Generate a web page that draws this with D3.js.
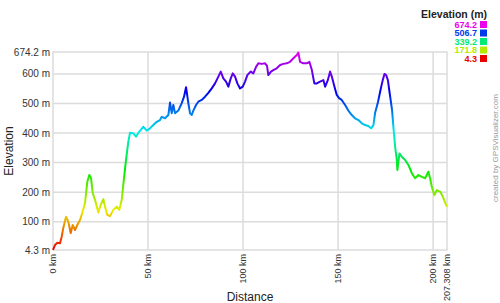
<!DOCTYPE html>
<html>
<head>
<meta charset="utf-8">
<script src="https://cdn.jsdelivr.net/npm/d3@7"></script>
<style>
  body { margin: 0; background: #fff; }
  svg text { font-family: "Liberation Sans", Arial, sans-serif; }
</style>
</head>
<body>
<svg id="chart" width="500" height="303"></svg>
<script>
// elevation profile
var distKm = [0, 1.05, 2.26, 3.68, 4.58, 5.42, 6.84, 8.05, 9.32, 10.37, 11.58, 12.79, 14.21, 15.42, 16.84,
  18.05, 19.1, 20.0, 20.9, 22.1, 23.84, 25.1, 26.47, 27.37, 28.58, 30.0, 31.74, 33.53, 34.89, 36.16,
  37.37, 38.42, 39.63, 40.53, 42.26, 43.68, 45.42, 47.53, 49.32, 51.05, 52.79, 54.58, 56.32,
  57.21, 58.95, 60.68, 61.58, 62.47, 63.32, 64.21, 65.95, 67.74, 68.95, 70.0, 71.21, 72.1, 73.0,
  73.84, 75.26, 76.47, 78.26, 80.0, 81.74, 83.53, 85.26, 87.0, 88.26, 89.63, 91.05, 92.26, 93.53,
  94.58, 95.79, 97.0, 98.42, 99.84, 101.05, 102.26, 104.05, 105.42, 106.84, 108.05, 109.84, 111.58,
  112.6, 113.3, 114.7, 115.9, 117.7, 119.5, 121.2, 123.0, 124.7, 126.5, 128.3, 129.1, 130.0, 131.7,
  133.5, 134.9, 136.2, 137.5, 138.8, 140.5, 142.3, 143.2, 144.6, 145.8, 146.7, 148.1, 149.3, 150.5,
  151.9, 153.7, 155.4, 157.2, 158.9, 160.7, 162.5, 164.2, 165.9, 167.4, 168.6, 169.5, 171.0, 172.5,
  173.5, 174.4, 175.3, 176.2, 177.4, 178.4, 179.1, 180.0, 180.9, 181.2, 182.3, 183.5, 185.3, 187.0,
  188.8, 190.5, 192.3, 194.1, 195.8, 197.5, 198.4, 199.3, 200.7, 201.9, 203.7, 205.1, 206.6, 207.308];
var elevM = [5, 21, 29, 27, 49, 79, 117, 100, 62, 89, 72, 89, 106, 130, 163,
  235, 258, 248, 197, 174, 131, 157, 176, 151, 123, 119, 140, 151, 140, 174,
  248, 309, 371, 401, 399, 388, 405, 421, 408, 416, 427, 438, 444,
  455, 450, 461, 503, 467, 495, 467, 476, 501, 523, 555, 501, 467, 461,
  476, 495, 506, 512, 523, 536, 551, 568, 591, 608, 585, 574, 557, 585,
  602, 591, 568, 551, 557, 574, 596, 608, 602, 624, 636, 634, 636,
  627, 596, 608, 613, 619, 630, 634, 636, 641, 653, 664, 672, 641, 636,
  636, 641, 613, 568, 568, 574, 579, 557, 579, 608, 591, 557, 529, 518,
  512, 495, 476, 461, 450, 444, 433, 427, 424, 416, 427, 469, 505, 551,
  579, 600, 596, 579, 523, 478, 421, 354, 309, 275, 331, 320, 309, 292,
  264, 247, 258, 252, 247, 269, 247, 218, 190, 207, 202, 185, 160, 150];

var minElev = 4.3, maxElev = 674.2, totalKm = 207.308;
var yTicks = [100, 200, 300, 400, 500, 600];
var xTicks = [0, 50, 100, 150, 200];
var legendValues = [674.2, 506.7, 339.2, 171.8, 4.3];

var svg = d3.select("#chart");
var plotLeft = 53, plotRight = 447, plotTop = 52, plotBottom = 250;

var x = d3.scaleLinear().domain([0, totalKm]).range([plotLeft, plotRight]);
var y = d3.scaleLinear().domain([minElev, maxElev]).range([plotBottom, plotTop]);

// hue goes red -> magenta with elevation
var colorOf = function(v) {
  var h = (v - minElev) / (maxElev - minElev) * 300;
  return d3.hsl(h, 1, 0.46).formatHex();
};

var grid = "#dcdcdc";

// horizontal grid
svg.selectAll("line.hgrid")
  .data(yTicks)
  .enter().append("line")
  .attr("class", "hgrid")
  .attr("x1", plotLeft).attr("x2", plotRight)
  .attr("y1", function(d){ return y(d) }).attr("y2", function(d){ return y(d) })
  .attr("stroke", grid).attr("stroke-width", 1.5);

// vertical grid
svg.selectAll("line.vgrid")
  .data(xTicks.slice(1))
  .enter().append("line")
  .attr("class", "vgrid")
  .attr("x1", function(d){ return x(d) }).attr("x2", function(d){ return x(d) })
  .attr("y1", plotTop).attr("y2", plotBottom)
  .attr("stroke", grid).attr("stroke-width", 1.5);

// frame
svg.append("rect")
  .attr("x", plotLeft).attr("y", plotTop)
  .attr("width", plotRight - plotLeft).attr("height", plotBottom - plotTop)
  .attr("fill", "none").attr("stroke", grid).attr("stroke-width", 1.5);

// gradient along elevation
var grad = svg.append("defs").append("linearGradient")
  .attr("id", "elevGrad")
  .attr("gradientUnits", "userSpaceOnUse")
  .attr("x1", 0).attr("x2", 0)
  .attr("y1", y(minElev)).attr("y2", y(maxElev));
d3.range(0, 11).forEach(function(i) {
  var v = minElev + (maxElev - minElev) * i / 10;
  grad.append("stop").attr("offset", (i * 10) + "%").attr("stop-color", colorOf(v));
});

var points = distKm.map(function(d, i){ return [d, elevM[i]] });
var line = d3.line()
  .x(function(d){ return x(d[0]) })
  .y(function(d){ return y(d[1]) });

svg.append("path")
  .datum(points)
  .attr("d", line)
  .attr("fill", "none")
  .attr("stroke", "url(#elevGrad)")
  .attr("stroke-width", 2)
  .attr("stroke-linejoin", "round");

// y axis labels
var yLabels = [minElev].concat(yTicks).concat([maxElev]);
svg.selectAll("text.ytick")
  .data(yLabels)
  .enter().append("text")
  .attr("class", "ytick")
  .attr("x", plotLeft - 3)
  .attr("y", function(d){ return y(d) })
  .attr("dy", "0.35em")
  .attr("text-anchor", "end")
  .attr("font-size", 10)
  .attr("fill", "#333")
  .text(function(d){ return d + " m" });

// x axis labels
var xLabels = xTicks.concat([totalKm]);
svg.selectAll("text.xtick")
  .data(xLabels)
  .enter().append("text")
  .attr("class", "xtick")
  .attr("transform", function(d){ return "translate(" + x(d) + "," + (plotBottom + 4) + ") rotate(-90)" })
  .attr("dy", "0.35em")
  .attr("text-anchor", "end")
  .attr("font-size", 9)
  .attr("fill", "#333")
  .text(function(d){ return d + " km" });

// axis titles
svg.append("text")
  .attr("transform", "translate(13," + ((plotTop + plotBottom) / 2) + ") rotate(-90)")
  .attr("text-anchor", "middle")
  .attr("font-size", 12)
  .attr("fill", "#222")
  .text("Elevation");

svg.append("text")
  .attr("x", (plotLeft + plotRight) / 2)
  .attr("y", 301)
  .attr("text-anchor", "middle")
  .attr("font-size", 12)
  .attr("fill", "#222")
  .text("Distance");

// legend
svg.append("text")
  .attr("x", 487).attr("y", 18)
  .attr("text-anchor", "end")
  .attr("font-size", 10.5)
  .attr("font-weight", "bold")
  .attr("fill", "#222")
  .text("Elevation (m)");

var leg = svg.selectAll("g.leg")
  .data(legendValues)
  .enter().append("g")
  .attr("class", "leg")
  .attr("transform", function(d, i){ return "translate(0," + (24.5 + i * 8.5) + ")" });

leg.append("text")
  .attr("x", 477)
  .attr("dy", "0.35em")
  .attr("text-anchor", "end")
  .attr("font-size", 9)
  .attr("font-weight", "bold")
  .attr("fill", function(d){ return colorOf(d) })
  .text(function(d){ return d });

leg.append("rect")
  .attr("x", 480).attr("y", -3.5)
  .attr("width", 7).attr("height", 7)
  .attr("fill", function(d){ return colorOf(d) });

// credit
svg.append("text")
  .attr("transform", "translate(495,202) rotate(-90)")
  .attr("dy", "0.35em")
  .attr("font-size", 8)
  .attr("fill", "#999")
  .text("created by GPSVisualizer.com");
</script>
</body>
</html>
